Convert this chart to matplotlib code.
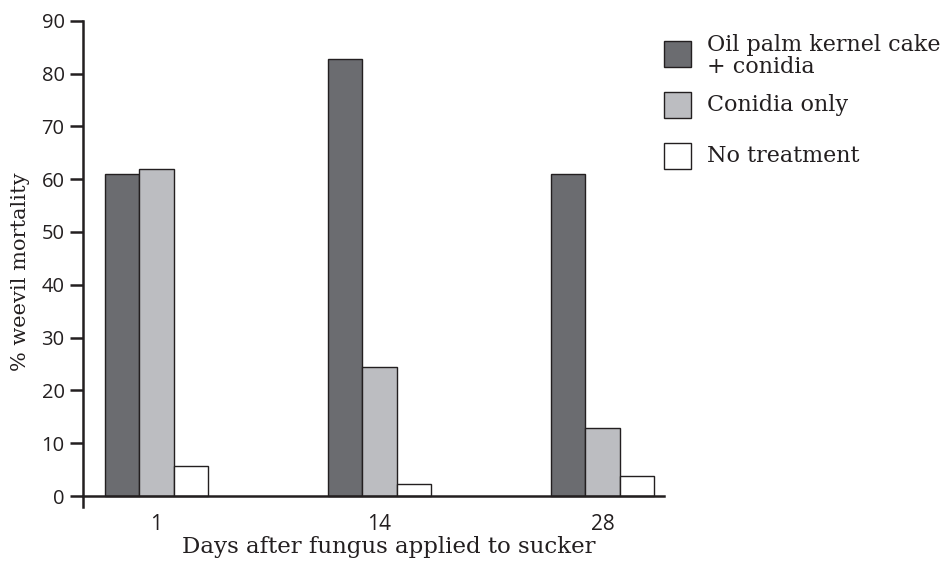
import numpy as np
import matplotlib.pyplot as plt
from matplotlib.patches import Rectangle

# data
dias = ["1", "14", "28"]
series = ["Oil palm kernel cake\n+ conidia", "Conidia only", "No treatment"]
torta_conidias = [61.0, 82.7, 61.0]
solo_conidias = [61.9, 24.4, 12.8]
sin_tratamiento = [5.7, 2.3, 3.8]

colores = ["#6b6c70", "#bcbdc1", "#ffffff"]
borde = "#231f20"
serif = "DejaVu Serif"
sans = "Open Sans"

fig = plt.figure(figsize=(9.45, 5.61), dpi=100)
# eje: izquierda 83 px, derecha 664 px, abajo 507 px, arriba 20.7 px
ax = fig.add_axes([83.3 / 945, 1 - 507 / 561, 580.7 / 945, 486.3 / 561])

x = np.arange(len(dias))
ancho = 0.1547
valores = [torta_conidias, solo_conidias, sin_tratamiento]
for i, (vals, col) in enumerate(zip(valores, colores)):
    ax.bar(x + (i - 1) * ancho, vals, width=ancho, color=col,
           edgecolor=borde, linewidth=1.0, zorder=2)

ax.set_xlim(-0.328, 2.276)
ax.set_ylim(-2.08, 90)
ax.set_yticks(range(0, 91, 10))
ax.set_xticks(x)
ax.set_xticklabels(dias)

ax.spines["top"].set_visible(False)
ax.spines["right"].set_visible(False)
ax.spines["bottom"].set_position(("data", 0))
for s in ("left", "bottom"):
    ax.spines[s].set_linewidth(1.8)
    ax.spines[s].set_color(borde)

ax.tick_params(axis="y", length=9.5, width=1.8, color=borde, pad=4,
               labelsize=14.5, labelcolor=borde)
ax.tick_params(axis="x", length=0, pad=13, labelsize=15, labelcolor=borde)
for t in ax.get_xticklabels() + ax.get_yticklabels():
    t.set_family(sans)

ax.set_xlabel("Days after fungus applied to sucker", family=serif,
              fontsize=16.5, color=borde, va="center")
ax.xaxis.set_label_coords((389 - 83.3) / 580.7, -0.082)
ax.set_ylabel("% weevil mortality", family=serif, fontsize=15, color=borde,
              va="center")
ax.yaxis.set_label_coords(-0.109, 0.483)

# leyenda a mano para que las filas queden equiespaciadas
alto = 561.0
filas_y = [54, 105, 156]
for lab, col, yc in zip(series, colores, filas_y):
    fig.patches.append(Rectangle((664 / 945, 1 - (yc + 13) / alto),
                                 27 / 945, 26 / alto, transform=fig.transFigure,
                                 facecolor=col, edgecolor=borde, linewidth=1.0))
    ty = yc + 2 if "\n" in lab else yc
    fig.text(707 / 945, 1 - ty / alto, lab, family=serif, fontsize=16,
             color=borde, va="center", ha="left", linespacing=1.0)

fig.savefig("out.png", dpi=100)
